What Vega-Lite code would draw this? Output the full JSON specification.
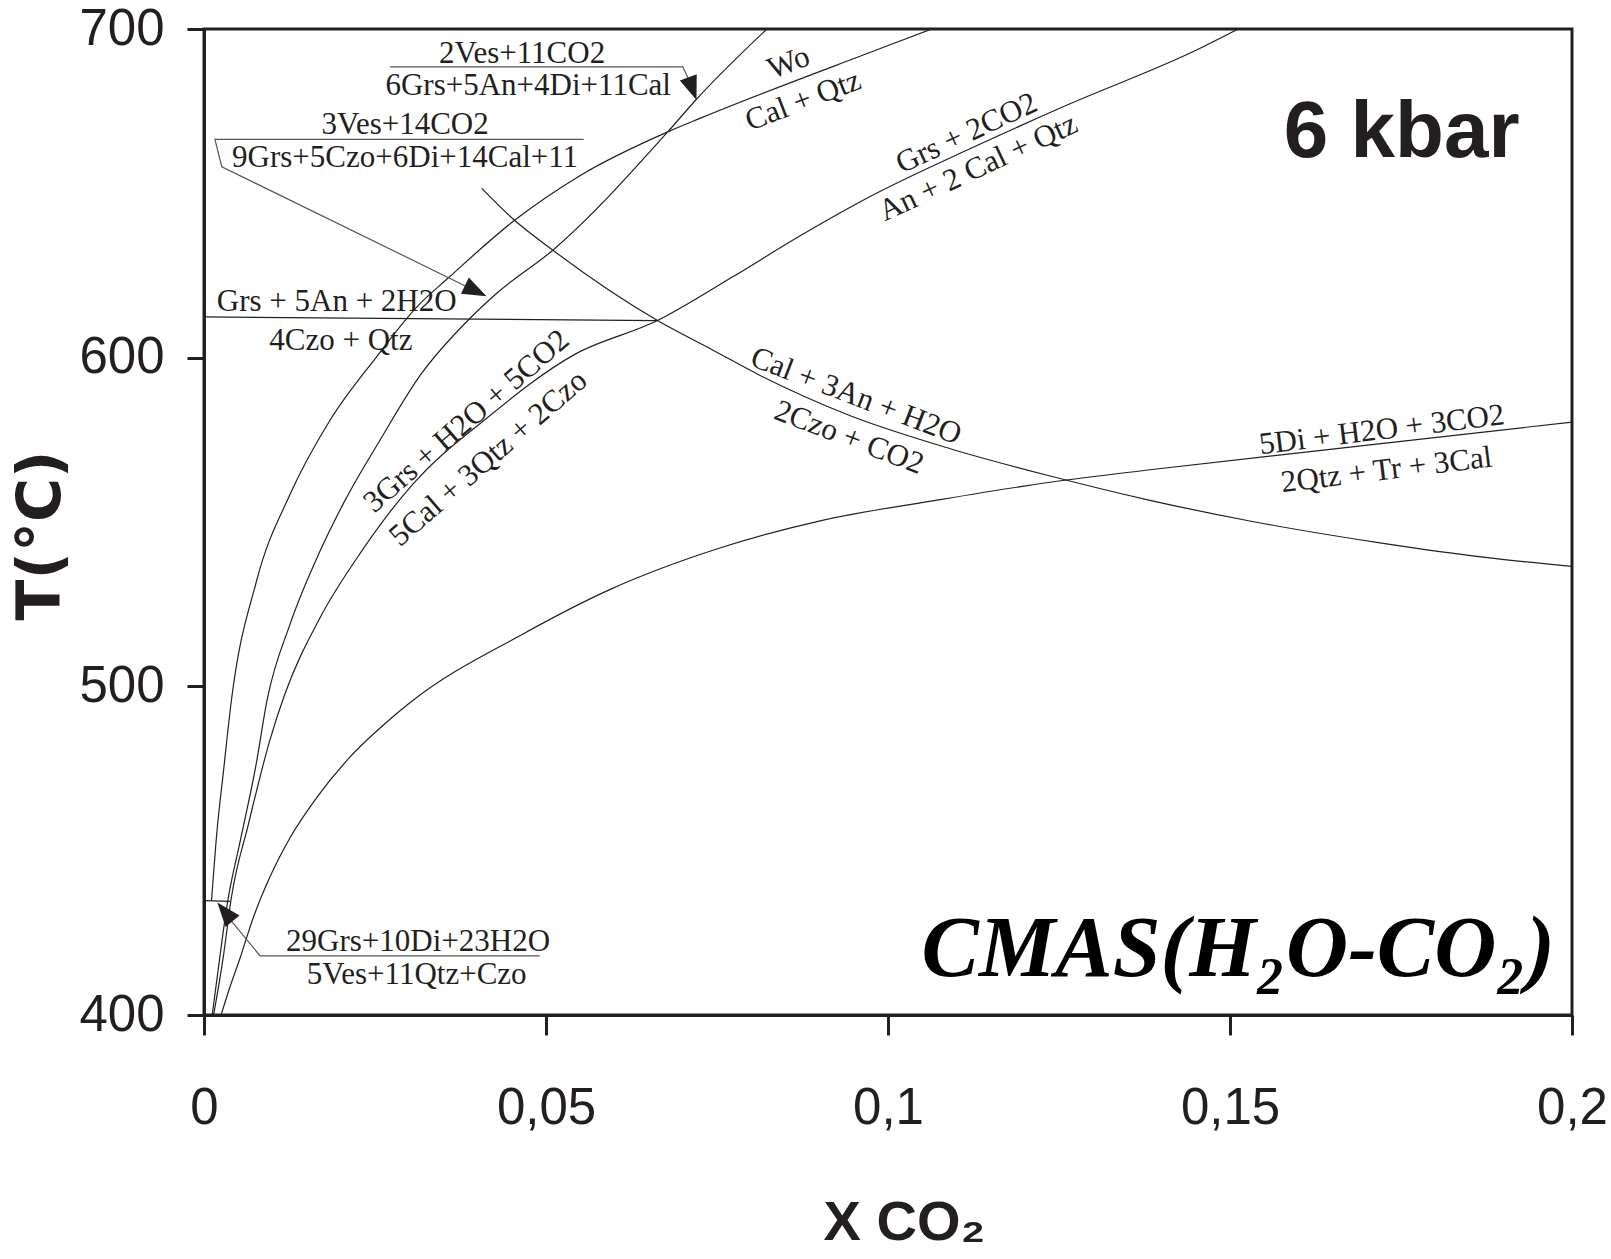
{
  "$schema": "https://vega.github.io/schema/vega-lite/v6.json",
  "width": 1368,
  "height": 986,
  "autosize": {"type": "none"},
  "padding": {"left": 204, "top": 29, "right": 39, "bottom": 244},
  "background": "white",
  "config": {
    "view": {"stroke": "#231f20", "strokeWidth": 3},
    "axis": {"grid": false}
  },
  "datasets": {
    "curves": [
      {"c": "wo", "k": "r", "o": 1, "x": 0.0011, "T": 434.8},
      {"c": "wo", "k": "r", "o": 2, "x": 0.0019, "T": 456.0},
      {"c": "wo", "k": "r", "o": 3, "x": 0.0028, "T": 473.3},
      {"c": "wo", "k": "r", "o": 4, "x": 0.0040, "T": 495.6},
      {"c": "wo", "k": "r", "o": 5, "x": 0.0077, "T": 532.2},
      {"c": "wo", "k": "r", "o": 6, "x": 0.0126, "T": 558.5},
      {"c": "wo", "k": "r", "o": 7, "x": 0.0184, "T": 580.9},
      {"c": "wo", "k": "r", "o": 8, "x": 0.0252, "T": 600.2},
      {"c": "wo", "k": "r", "o": 9, "x": 0.0311, "T": 615.4},
      {"c": "wo", "k": "r", "o": 10, "x": 0.0359, "T": 624.6},
      {"c": "wo", "k": "r", "o": 11, "x": 0.0454, "T": 641.8},
      {"c": "wo", "k": "r", "o": 12, "x": 0.0549, "T": 655.3},
      {"c": "wo", "k": "r", "o": 13, "x": 0.0678, "T": 668.7},
      {"c": "wo", "k": "r", "o": 14, "x": 0.0725, "T": 672.8},
      {"c": "wo", "k": "r", "o": 15, "x": 0.0983, "T": 693.6},
      {"c": "wo", "k": "r", "o": 16, "x": 0.1064, "T": 700.0},

      {"c": "ves", "k": "r", "o": 1, "x": 0.0012, "T": 400.0},
      {"c": "ves", "k": "r", "o": 2, "x": 0.0023, "T": 417.4},
      {"c": "ves", "k": "r", "o": 3, "x": 0.0034, "T": 433.8},
      {"c": "ves", "k": "r", "o": 4, "x": 0.0053, "T": 453.0},
      {"c": "ves", "k": "r", "o": 5, "x": 0.0076, "T": 476.0},
      {"c": "ves", "k": "r", "o": 6, "x": 0.0092, "T": 495.6},
      {"c": "ves", "k": "r", "o": 7, "x": 0.0126, "T": 519.0},
      {"c": "ves", "k": "r", "o": 8, "x": 0.0170, "T": 541.3},
      {"c": "ves", "k": "r", "o": 9, "x": 0.0206, "T": 556.5},
      {"c": "ves", "k": "r", "o": 10, "x": 0.0257, "T": 574.8},
      {"c": "ves", "k": "r", "o": 11, "x": 0.0316, "T": 594.6},
      {"c": "ves", "k": "r", "o": 12, "x": 0.0389, "T": 612.0},
      {"c": "ves", "k": "r", "o": 13, "x": 0.0428, "T": 619.6},
      {"c": "ves", "k": "r", "o": 14, "x": 0.0510, "T": 632.7},
      {"c": "ves", "k": "r", "o": 15, "x": 0.0678, "T": 668.7},
      {"c": "ves", "k": "r", "o": 16, "x": 0.0719, "T": 678.4},
      {"c": "ves", "k": "r", "o": 17, "x": 0.0823, "T": 700.0},

      {"c": "grs", "k": "r", "o": 1, "x": 0.0014, "T": 400.0},
      {"c": "grs", "k": "r", "o": 2, "x": 0.0028, "T": 417.4},
      {"c": "grs", "k": "r", "o": 3, "x": 0.0040, "T": 435.7},
      {"c": "grs", "k": "r", "o": 4, "x": 0.0065, "T": 458.1},
      {"c": "grs", "k": "r", "o": 5, "x": 0.0096, "T": 483.4},
      {"c": "grs", "k": "r", "o": 6, "x": 0.0118, "T": 497.5},
      {"c": "grs", "k": "r", "o": 7, "x": 0.0170, "T": 521.0},
      {"c": "grs", "k": "r", "o": 8, "x": 0.0231, "T": 541.3},
      {"c": "grs", "k": "r", "o": 9, "x": 0.0306, "T": 561.7},
      {"c": "grs", "k": "r", "o": 10, "x": 0.0411, "T": 581.2},
      {"c": "grs", "k": "r", "o": 11, "x": 0.0542, "T": 601.0},
      {"c": "grs", "k": "r", "o": 12, "x": 0.0663, "T": 611.3},
      {"c": "grs", "k": "r", "o": 13, "x": 0.0773, "T": 624.6},
      {"c": "grs", "k": "r", "o": 14, "x": 0.0871, "T": 637.0},
      {"c": "grs", "k": "r", "o": 15, "x": 0.0983, "T": 650.0},
      {"c": "grs", "k": "r", "o": 16, "x": 0.1115, "T": 663.1},
      {"c": "grs", "k": "r", "o": 17, "x": 0.1261, "T": 676.8},
      {"c": "grs", "k": "r", "o": 18, "x": 0.1451, "T": 693.6},
      {"c": "grs", "k": "r", "o": 19, "x": 0.1512, "T": 700.0},

      {"c": "cal", "k": "r", "o": 1, "x": 0.0406, "T": 651.5},
      {"c": "cal", "k": "r", "o": 2, "x": 0.0454, "T": 641.8},
      {"c": "cal", "k": "r", "o": 3, "x": 0.0510, "T": 632.7},
      {"c": "cal", "k": "r", "o": 4, "x": 0.0663, "T": 611.3},
      {"c": "cal", "k": "r", "o": 5, "x": 0.0745, "T": 602.2},
      {"c": "cal", "k": "r", "o": 6, "x": 0.0813, "T": 594.6},
      {"c": "cal", "k": "r", "o": 7, "x": 0.0944, "T": 582.4},
      {"c": "cal", "k": "r", "o": 8, "x": 0.1091, "T": 572.3},
      {"c": "cal", "k": "r", "o": 9, "x": 0.1237, "T": 564.0},
      {"c": "cal", "k": "r", "o": 10, "x": 0.1383, "T": 556.6},
      {"c": "cal", "k": "r", "o": 11, "x": 0.1529, "T": 550.3},
      {"c": "cal", "k": "r", "o": 12, "x": 0.1724, "T": 543.5},
      {"c": "cal", "k": "r", "o": 13, "x": 0.1870, "T": 539.3},
      {"c": "cal", "k": "r", "o": 14, "x": 0.2000, "T": 536.5},

      {"c": "di", "k": "r", "o": 1, "x": 0.0025, "T": 400.0},
      {"c": "di", "k": "r", "o": 2, "x": 0.0036, "T": 407.3},
      {"c": "di", "k": "r", "o": 3, "x": 0.0053, "T": 417.5},
      {"c": "di", "k": "r", "o": 4, "x": 0.0072, "T": 429.6},
      {"c": "di", "k": "r", "o": 5, "x": 0.0096, "T": 441.8},
      {"c": "di", "k": "r", "o": 6, "x": 0.0126, "T": 454.0},
      {"c": "di", "k": "r", "o": 7, "x": 0.0165, "T": 466.2},
      {"c": "di", "k": "r", "o": 8, "x": 0.0213, "T": 478.4},
      {"c": "di", "k": "r", "o": 9, "x": 0.0272, "T": 490.0},
      {"c": "di", "k": "r", "o": 10, "x": 0.0301, "T": 495.0},
      {"c": "di", "k": "r", "o": 11, "x": 0.0467, "T": 516.0},
      {"c": "di", "k": "r", "o": 12, "x": 0.0594, "T": 529.5},
      {"c": "di", "k": "r", "o": 13, "x": 0.0753, "T": 542.0},
      {"c": "di", "k": "r", "o": 14, "x": 0.0904, "T": 550.5},
      {"c": "di", "k": "r", "o": 15, "x": 0.1076, "T": 556.8},
      {"c": "di", "k": "r", "o": 16, "x": 0.1237, "T": 562.1},
      {"c": "di", "k": "r", "o": 17, "x": 0.1383, "T": 565.9},
      {"c": "di", "k": "r", "o": 18, "x": 0.1724, "T": 573.9},
      {"c": "di", "k": "r", "o": 19, "x": 0.2000, "T": 580.4},

      {"c": "czo", "k": "s", "o": 1, "x": 0.0, "T": 612.4},
      {"c": "czo", "k": "s", "o": 2, "x": 0.0663, "T": 611.3},

      {"c": "ves29", "k": "s", "o": 1, "x": 0.0, "T": 434.8},
      {"c": "ves29", "k": "s", "o": 2, "x": 0.0038, "T": 434.6},

      {"c": "lead2ves", "k": "b", "o": 1, "x": 0.0272, "T": 688.5},
      {"c": "lead2ves", "k": "b", "o": 2, "x": 0.0700, "T": 688.5},
      {"c": "lead2ves", "k": "b", "o": 3, "x": 0.0709, "T": 684.5},
      {"c": "lead2ves", "k": "b", "o": 4, "x": 0.0716, "T": 681.0},

      {"c": "lead3ves", "k": "b", "o": 1, "x": 0.0555, "T": 666.4},
      {"c": "lead3ves", "k": "b", "o": 2, "x": 0.0016, "T": 666.4},
      {"c": "lead3ves", "k": "b", "o": 3, "x": 0.0026, "T": 658.1},
      {"c": "lead3ves", "k": "b", "o": 4, "x": 0.0400, "T": 620.0},

      {"c": "lead29", "k": "b", "o": 1, "x": 0.0491, "T": 418.0},
      {"c": "lead29", "k": "b", "o": 2, "x": 0.0082, "T": 418.0},
      {"c": "lead29", "k": "b", "o": 3, "x": 0.0025, "T": 432.4}
    ],
    "arrows": [
      {"a": "a1", "x": 0.0720, "T": 678.4},
      {"a": "a2", "x": 0.0413, "T": 618.7},
      {"a": "a3", "x": 0.00196, "T": 434.2}
    ],
    "labels": [
      {"t": "2Ves+11CO2", "x": 0.0465, "T": 692.5, "along": "h"},
      {"t": "6Grs+5An+4Di+11Cal", "x": 0.0474, "T": 682.7, "along": "h"},
      {"t": "3Ves+14CO2", "x": 0.0294, "T": 670.9, "along": "h"},
      {"t": "9Grs+5Czo+6Di+14Cal+11", "x": 0.0294, "T": 660.7, "along": "h"},
      {"t": "Grs  + 5An + 2H2O", "x": 0.0194, "T": 617.0, "along": "h"},
      {"t": "4Czo + Qtz", "x": 0.0200, "T": 605.0, "along": "h"},
      {"t": "29Grs+10Di+23H2O", "x": 0.0313, "T": 422.3, "along": "h"},
      {"t": "5Ves+11Qtz+Czo", "x": 0.0311, "T": 412.2, "along": "h"},
      {"t": "Wo", "x": 0.0855, "T": 689.6, "along": "wo"},
      {"t": "Cal + Qtz", "x": 0.0876, "T": 678.1, "along": "wo"},
      {"t": "Grs + 2CO2", "x": 0.1115, "T": 668.2, "along": "grs"},
      {"t": "An + 2 Cal + Qtz", "x": 0.1132, "T": 657.7, "along": "grs"},
      {"t": "3Grs + H2O + 5CO2", "x": 0.0384, "T": 580.6, "along": "c3"},
      {"t": "5Cal + 3Qtz + 2Czo", "x": 0.0416, "T": 569.3, "along": "c3"},
      {"t": "Cal + 3An + H2O", "x": 0.0953, "T": 588.2, "along": "cal"},
      {"t": "2Czo + CO2", "x": 0.0943, "T": 575.6, "along": "cal"},
      {"t": "5Di + H2O + 3CO2", "x": 0.1722, "T": 577.9, "along": "di"},
      {"t": "2Qtz + Tr + 3Cal", "x": 0.1729, "T": 565.7, "along": "di"}
    ],
    "titles": [
      {"t": "6 kbar", "x": 0.1751, "T": 661.1, "kind": "p"},
      {"t": "CMAS(H₂O-CO₂)", "x": 0.1512, "T": 411.9, "kind": "s"}
    ]
  },
  "encoding": {
    "x": {
      "field": "x",
      "type": "quantitative",
      "scale": {"domain": [0, 0.2], "nice": false, "zero": false},
      "axis": {
        "values": [0, 0.05, 0.1, 0.15, 0.2],
        "format": "~g",
        "labelExpr": "replace(datum.label, '.', ',')",
        "labelFlush": false,
        "labelOverlap": false,
        "labelFont": "Liberation Sans",
        "labelFontSize": 51,
        "labelColor": "#231f20",
        "labelBaseline": "alphabetic",
        "labelPadding": 88,
        "tickSize": 20,
        "tickWidth": 3,
        "tickColor": "#231f20",
        "domainWidth": 3,
        "domainColor": "#231f20",
        "title": "X CO₂",
        "titleFont": "Liberation Sans",
        "titleFontWeight": "bold",
        "titleFontSize": 56,
        "titleColor": "#231f20",
        "titleX": 700,
        "titleY": 207,
        "titleAlign": "center",
        "titleBaseline": "middle"
      }
    },
    "y": {
      "field": "T",
      "type": "quantitative",
      "scale": {"domain": [400, 700], "nice": false, "zero": false},
      "axis": {
        "values": [400, 500, 600, 700],
        "labelFont": "Liberation Sans",
        "labelFontSize": 51,
        "labelColor": "#231f20",
        "labelPadding": 23,
        "tickSize": 17,
        "tickWidth": 3,
        "tickColor": "#231f20",
        "domainWidth": 3,
        "domainColor": "#231f20",
        "title": "T(°C)",
        "titleFont": "DejaVu Sans",
        "titleFontWeight": "bold",
        "titleFontSize": 60,
        "titleColor": "#231f20",
        "titleAngle": 270,
        "titleX": -163,
        "titleY": 506,
        "titleAlign": "center",
        "titleBaseline": "middle"
      }
    }
  },
  "layer": [
    {
      "data": {"name": "curves"},
      "transform": [{"filter": "datum.k === 'r'"}],
      "mark": {"type": "line", "color": "#231f20", "strokeWidth": 1.2, "interpolate": "monotone", "clip": true},
      "encoding": {"detail": {"field": "c"}, "order": {"field": "o", "type": "quantitative"}}
    },
    {
      "data": {"name": "curves"},
      "transform": [{"filter": "datum.k === 's'"}],
      "mark": {"type": "line", "color": "#231f20", "strokeWidth": 1.2, "clip": true},
      "encoding": {"detail": {"field": "c"}, "order": {"field": "o", "type": "quantitative"}}
    },
    {
      "data": {"name": "curves"},
      "transform": [{"filter": "datum.k === 'b'"}],
      "mark": {"type": "line", "color": "#555555", "strokeWidth": 1.2, "clip": true},
      "encoding": {"detail": {"field": "c"}, "order": {"field": "o", "type": "quantitative"}}
    },
    {
      "data": {"name": "arrows"},
      "mark": {"type": "point", "shape": "M0,0L0.75,2L-0.75,2Z", "filled": true, "color": "#231f20", "opacity": 1, "size": 576},
      "encoding": {
        "angle": {
          "condition": [
            {"test": "datum.a === 'a1'", "value": 160},
            {"test": "datum.a === 'a2'", "value": 116}
          ],
          "value": 321
        }
      }
    },
    {
      "data": {"name": "labels"},
      "mark": {"type": "text", "font": "Liberation Serif", "fontSize": 31, "color": "#231f20", "align": "center", "baseline": "middle"},
      "encoding": {
        "text": {"field": "t"},
        "angle": {
          "condition": [
            {"test": "datum.along === 'wo'", "value": 339},
            {"test": "datum.along === 'grs'", "value": 335},
            {"test": "datum.along === 'c3'", "value": 319},
            {"test": "datum.along === 'cal'", "value": 21},
            {"test": "datum.along === 'di'", "value": 353}
          ],
          "value": 0
        }
      }
    },
    {
      "data": {"name": "titles"},
      "transform": [{"filter": "datum.kind === 'p'"}],
      "mark": {"type": "text", "font": "Liberation Sans", "fontWeight": "bold", "fontSize": 80, "color": "#231f20", "align": "center", "baseline": "alphabetic"},
      "encoding": {"text": {"field": "t"}}
    },
    {
      "data": {"name": "titles"},
      "transform": [{"filter": "datum.kind === 's'"}],
      "mark": {"type": "text", "font": "Liberation Serif", "fontWeight": "bold", "fontStyle": "italic", "fontSize": 86, "color": "#000000", "align": "center", "baseline": "alphabetic"},
      "encoding": {"text": {"field": "t"}}
    }
  ]
}
